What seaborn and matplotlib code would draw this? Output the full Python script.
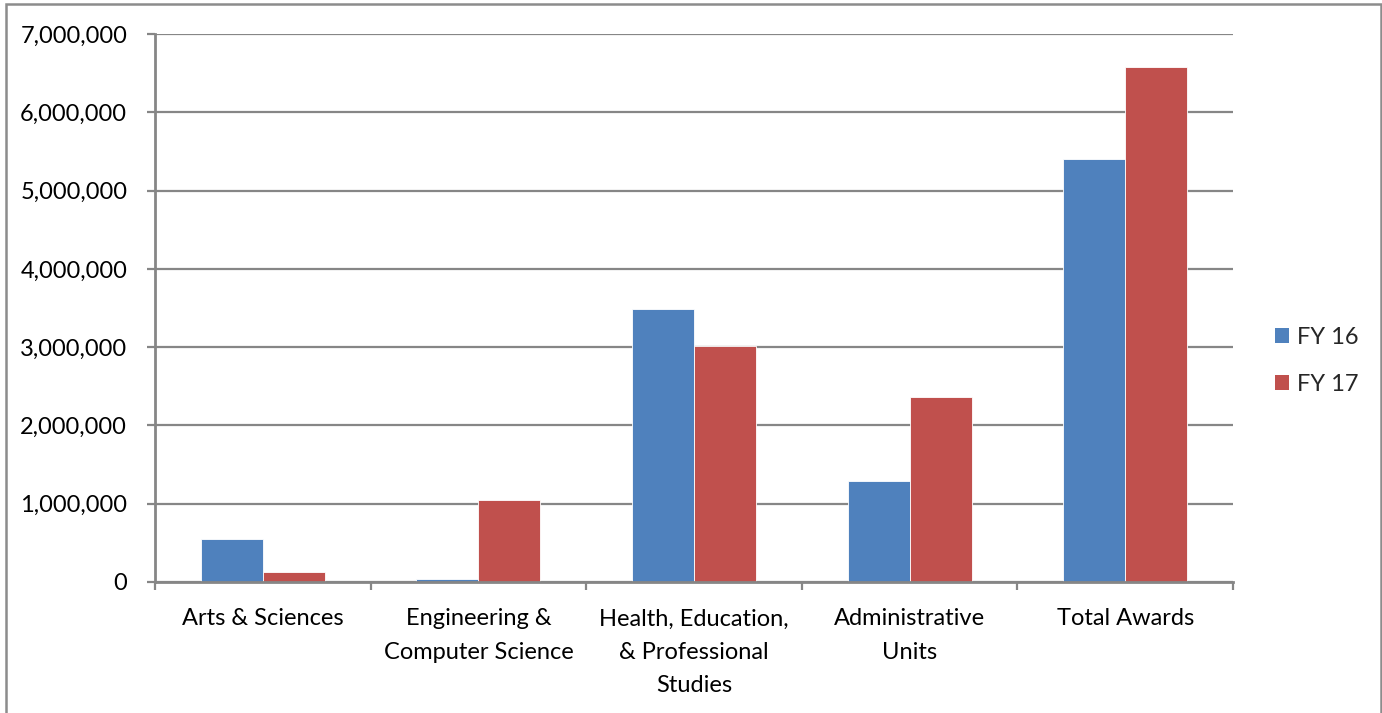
import matplotlib
matplotlib.use("Agg")
import matplotlib.pyplot as plt
import matplotlib.ticker as mticker
from matplotlib.patches import Rectangle, Patch
import seaborn as sns
import pandas as pd

categories = ["Arts & Sciences", "Engineering &\nComputer Science",
              "Health, Education,\n& Professional\nStudies", "Administrative\nUnits", "Total Awards"]
fy16 = [545000, 35000, 3490000, 1290000, 5400000]
fy17 = [124000, 1050000, 3020000, 2363000, 6580000]
series = ["FY 16", "FY 17"]
colors = ["#4F81BD", "#C0504D"]
yticks = [0, 1000000, 2000000, 3000000, 4000000, 5000000, 6000000, 7000000]

df = pd.DataFrame({
    "cat": categories * 2,
    "val": fy16 + fy17,
    "series": [series[0]] * len(categories) + [series[1]] * len(categories),
})

sns.set_theme(style="white")
plt.rcParams['font.family'] = ['Lato', 'DejaVu Sans']

fs = 17
fig = plt.figure(figsize=(13.82, 7.13), dpi=100)
ax = fig.add_axes([155/1382, 1 - 582/713, (1233-155)/1382, (582-34)/713])

sns.barplot(data=df, x="cat", y="val", hue="series", palette=colors, ax=ax,
            width=0.575, gap=0, edgecolor="white", linewidth=0.6, legend=False,
            saturation=1, errorbar=None)

gc = "#868686"
ax.set_ylim(0, 7000000)
ax.set_xlim(-0.5, len(categories) - 0.5)
ax.set_yticks(yticks)
ax.yaxis.set_major_formatter(mticker.FuncFormatter(lambda v, p: f"{int(v):,}"))
ax.grid(axis="y", color=gc, linewidth=1.6)
ax.set_axisbelow(True)
for s in ["top", "right"]:
    ax.spines[s].set_visible(False)
for s in ["left", "bottom"]:
    ax.spines[s].set_color(gc)
    ax.spines[s].set_linewidth(2)
ax.set_xlabel("")
ax.set_ylabel("")

ax.tick_params(axis="y", left=True, length=6, width=1.6, color=gc, pad=14,
               labelsize=fs, labelcolor="black")
ax.set_xticks(range(len(categories)))
ax.set_xticklabels(categories, linespacing=1.72)
ax.tick_params(axis="x", which="major", length=0, pad=19, labelsize=fs, labelcolor="black")
ax.set_xticks([i - 0.5 for i in range(len(categories) + 1)], minor=True)
ax.tick_params(axis="x", which="minor", bottom=True, length=6, width=1.6, color=gc)
for lab in ax.get_xticklabels():
    lab.set_verticalalignment("top")

handles = [Patch(facecolor=c, edgecolor="none", label=s) for s, c in zip(series, colors)]
fig.legend(handles=handles, loc="center left", bbox_to_anchor=(1258/1382, 1 - 361/713),
           frameon=False, fontsize=fs, handlelength=0.6, handleheight=0.6,
           handletextpad=0.35, labelspacing=1.1, borderpad=0.2)

fig.patches.append(Rectangle((6/1382, -0.1), (1381-6)/1382, 1.1 - 4/713,
                             transform=fig.transFigure, fill=False,
                             edgecolor="#8c8c8c", linewidth=1.8))

fig.savefig("out.png", dpi=100)
